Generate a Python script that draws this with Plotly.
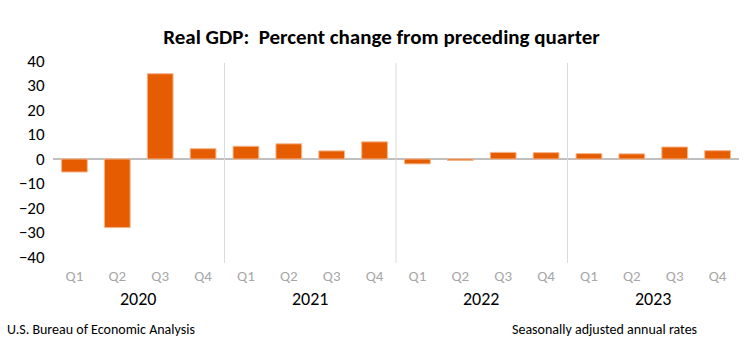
import plotly.graph_objects as go

years = ["2020", "2021", "2022", "2023"]
quarters = ["Q1", "Q2", "Q3", "Q4"]
gdp_change = [-5.3, -28.0, 34.8, 4.2,
              5.2, 6.2, 3.3, 7.0,
              -2.0, -0.6, 2.7, 2.6,
              2.2, 2.1, 4.9, 3.4]
y_ticks = [40, 30, 20, 10, 0, -10, -20, -30, -40]

FONT = "Carlito, Lato, sans-serif"

n = len(gdp_change)
x = list(range(n))
q_labels = [quarters[i % 4] for i in x]

fig = go.Figure()
fig.add_trace(go.Bar(
    x=x, y=gdp_change,
    marker=dict(color="#E65C00", line=dict(color="#F5B48A", width=1)),
    width=0.6,
    hoverinfo="y",
))

# year dividers and labels
for k in range(1, len(years)):
    xd = 4 * k - 0.5
    fig.add_shape(type="line", xref="x", yref="paper", x0=xd, x1=xd,
                  y0=-0.03, y1=0.99, line=dict(color="#D9D9D9", width=1))
for k, yr in enumerate(years):
    fig.add_annotation(x=4 * k + 1.5, xref="x", y=-0.214, yref="paper",
                       yanchor="middle", text=yr, showarrow=False,
                       font=dict(family=FONT, size=18, color="#000000"))

fig.add_annotation(x=-0.07, xref="paper", xanchor="left", y=-0.372,
                   yref="paper", yanchor="middle",
                   text="U.S. Bureau of Economic Analysis", showarrow=False,
                   font=dict(family=FONT, size=14, color="#000000"))
fig.add_annotation(x=0.942, xref="paper", xanchor="right", y=-0.372,
                   yref="paper", yanchor="middle",
                   text="Seasonally adjusted annual rates", showarrow=False,
                   font=dict(family=FONT, size=14, color="#000000"))

fig.update_layout(
    width=748, height=351,
    margin=dict(l=53, r=9, t=61, b=94),
    paper_bgcolor="white", plot_bgcolor="white",
    showlegend=False,
    title=dict(text="<b>Real GDP:  Percent change from preceding quarter</b>",
               x=0.51, xanchor="center", y=0.896, yanchor="middle",
               font=dict(family=FONT, size=21, color="#000000")),
    xaxis=dict(range=[-0.5, n - 0.5], tickmode="array", tickvals=x,
               ticktext=q_labels, showgrid=False, zeroline=False,
               showline=False, ticks="", ticklen=0, ticklabelstandoff=8,
               tickfont=dict(family=FONT, size=15, color="#A6A6A6")),
    yaxis=dict(range=[-40, 40], tickmode="array", tickvals=y_ticks,
               showgrid=False, zeroline=True, zerolinecolor="#BFBFBF",
               zerolinewidth=2, showline=False, ticks="outside", ticklen=4,
               tickcolor="rgba(0,0,0,0)",
               tickfont=dict(family=FONT, size=17, color="#000000")),
)

fig.write_html("out.html")
